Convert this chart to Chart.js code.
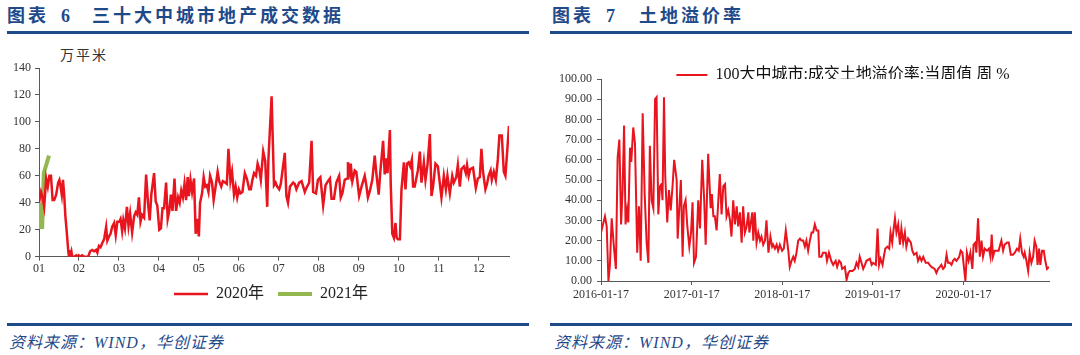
<!DOCTYPE html>
<html><head><meta charset="utf-8">
<script src="https://cdn.jsdelivr.net/npm/chart.js@4.4.1/dist/chart.umd.min.js"></script>
<style>
html,body{margin:0;padding:0;background:#fff;width:1080px;height:355px;overflow:hidden;position:relative}
.t{position:absolute;font-family:"Liberation Serif","Noto Sans CJK SC",serif;font-weight:700;color:#1f4a8a;font-size:18px;letter-spacing:3px;line-height:1;white-space:nowrap}
.rule{position:absolute;height:3px;background:#1f4a8a}
.src{position:absolute;font-family:"Liberation Serif","Noto Sans CJK SC",serif;font-style:italic;color:#1f4a8a;font-size:16px;line-height:1;white-space:nowrap;letter-spacing:1px}
.unit{position:absolute;font-family:"Noto Sans CJK SC",sans-serif;color:#333;font-size:14px;line-height:1;letter-spacing:2px}
canvas{position:absolute}
</style></head><body>
<div class="t" style="left:7px;top:7px">图表</div>
<div class="t" style="left:61px;top:7px">6</div>
<div class="t" style="left:92px;top:7px">三十大中城市地产成交数据</div>
<div class="rule" style="left:7px;top:31px;width:522px"></div>
<div class="t" style="left:552px;top:7px">图表</div>
<div class="t" style="left:606px;top:7px">7</div>
<div class="t" style="left:639px;top:7px">土地溢价率</div>
<div class="rule" style="left:550px;top:31px;width:522px"></div>
<div class="unit" style="left:60px;top:47px">万平米</div>
<canvas id="c1" width="540" height="280" style="left:0;top:40px"></canvas>
<canvas id="c2" width="540" height="260" style="left:540px;top:55px"></canvas>
<div class="rule" style="left:7px;top:323px;width:522px"></div>
<div class="rule" style="left:550px;top:323px;width:522px"></div>
<div class="src" style="left:9px;top:335px">资料来源：WIND，华创证券</div>
<div class="src" style="left:554px;top:335px">资料来源：WIND，华创证券</div>
<script>
// ---- Chart 6 data (x = month position, 0 = Jan) ----
const monthLabels = ['01','02','03','04','05','06','07','08','09','10','11','12'];
const red2020X = [
 0.00,0.05,0.09,0.13,0.18,0.22,0.26,0.30,0.34,0.38,
 0.43,0.48,0.51,0.54,0.57,0.60,0.63,0.66,0.69,0.73,
 0.75,0.78,0.81,0.83,0.88,0.93,0.96,0.99,1.03,1.08,
 1.13,1.18,1.23,1.28,1.33,1.38,1.43,1.46,1.50,1.54,
 1.58,1.63,1.68,1.71,1.75,1.79,1.83,1.88,1.92,1.96,
 2.01,2.04,2.08,2.11,2.15,2.20,2.24,2.28,2.33,2.38,
 2.42,2.46,2.50,2.54,2.58,2.63,2.68,2.73,2.77,2.81,
 2.88,2.92,2.96,3.01,3.05,3.09,3.13,3.18,3.22,3.26,
 3.30,3.34,3.39,3.43,3.48,3.52,3.56,3.60,3.64,3.68,
 3.72,3.75,3.79,3.83,3.88,3.92,3.95,4.00,4.03,4.08,
 4.12,4.16,4.20,4.24,4.28,4.33,4.37,4.41,4.47,4.51,
 4.56,4.60,4.66,4.70,4.74,4.79,4.83,4.88,4.92,4.96,
 5.00,5.04,5.09,5.15,5.20,5.26,5.30,5.34,5.38,5.43,
 5.47,5.51,5.55,5.61,5.66,5.71,5.74,5.82,5.88,5.92,
 5.96,6.01,6.05,6.15,6.19,6.23,6.28,6.36,6.40,6.44,
 6.51,6.57,6.65,6.69,6.76,6.82,6.86,6.93,6.98,7.04,
 7.11,7.17,7.23,7.28,7.32,7.38,7.44,7.51,7.55,7.59,
 7.65,7.71,7.73,7.78,7.80,7.84,7.90,7.94,8.01,8.07,
 8.15,8.19,8.23,8.28,8.34,8.40,8.44,8.50,8.54,8.61,
 8.65,8.69,8.72,8.78,8.80,8.84,8.88,8.92,8.95,8.98,
 9.03,9.07,9.13,9.17,9.21,9.25,9.29,9.33,9.36,9.40,
 9.44,9.48,9.53,9.57,9.63,9.67,9.72,9.78,9.82,9.86,
 9.92,9.98,10.07,10.13,10.18,10.22,10.28,10.34,10.38,10.44,
 10.48,10.53,10.57,10.63,10.68,10.71,10.75,10.79,10.86,10.93,
 10.98,11.03,11.07,11.11,11.17,11.21,11.25,11.30,11.33,11.38,
 11.43,11.48,11.52,11.58,11.63,11.67,11.70,11.76];
const red2020Y = [
 40,48,44,37,58,52,60,60,42,42,
 46,55,57,52,46,57,46,30,20,5,
 0,1,4,0,0,1,0,1,0,1,
 0,0,0,4,5,4,5,3,8,7,
 10,13,22,12,15,17,22,25,16,26,
 26,28,19,27,21,37,23,32,18,30,
 33,31,44,26,31,29,61,39,27,46,
 62,41,38,20,21,36,36,55,28,34,
 46,34,58,34,44,40,49,44,54,42,
 59,45,57,48,58,17,28,15,40,47,
 59,52,53,48,60,55,42,50,63,56,
 52,56,55,54,80,56,63,46,52,44,
 50,47,48,62,58,50,50,57,62,60,
 69,65,57,78,71,37,72,119,53,55,
 52,50,54,77,45,40,52,55,54,50,
 55,56,48,51,55,86,48,47,57,59,
 38,53,56,58,43,43,55,60,44,47,
 57,58,70,62,69,56,64,63,45,52,
 60,53,44,49,57,75,62,46,63,86,
 61,73,62,94,55,17,14,25,14,13,
 13,50,70,50,69,70,67,72,52,52,
 58,64,78,55,70,57,68,91,45,52,
 69,67,44,60,50,60,47,60,55,59,
 68,52,65,67,62,68,60,65,66,51,
 58,59,80,63,50,54,60,64,57,63,
 57,72,90,90,63,60,72,97];
const green2021X = [0.00,0.03,0.08,0.12,0.16,0.20,0.25];
const green2021Y = [40,22,22,62,66,70,75];

// ---- Chart 7 data (x = days since 2016-01-17) ----
const premiumTickLabels = ['2016-01-17','2017-01-17','2018-01-17','2019-01-17','2020-01-17'];
const premiumTickDays = [0,366,731,1096,1461];
const premiumDays = [
 0,16,23,30,36,43,52,60,67,74,
 81,87,93,99,105,110,117,122,130,137,
 146,153,160,168,176,184,191,197,204,211,
 218,224,231,238,244,248,254,259,267,274,
 281,289,295,305,309,316,322,329,334,341,
 348,356,363,369,375,383,392,399,408,416,
 422,432,442,447,453,459,466,473,479,486,
 493,500,506,513,520,526,533,540,547,553,
 560,567,573,580,587,594,598,604,610,614,
 620,627,634,641,647,654,661,667,675,683,
 690,694,701,708,714,721,730,737,745,755,
 761,768,775,781,788,795,802,808,815,822,
 828,835,842,849,855,862,869,876,880,889,
 895,906,911,919,928,936,946,952,960,967,
 972,983,990,997,1003,1014,1023,1030,1037,1043,
 1050,1057,1064,1070,1084,1091,1097,1108,1115,1121,
 1127,1135,1140,1146,1154,1162,1167,1174,1178,1185,
 1191,1198,1205,1211,1218,1225,1231,1238,1249,1255,
 1262,1272,1278,1285,1292,1299,1309,1319,1325,1332,
 1345,1352,1359,1366,1372,1379,1386,1393,1399,1406,
 1413,1419,1426,1433,1444,1450,1457,1463,1469,1475,
 1482,1489,1497,1502,1509,1513,1520,1527,1534,1540,
 1547,1556,1564,1570,1575,1580,1587,1597,1603,1607,
 1614,1621,1627,1637,1644,1652,1661,1668,1677,1684,
 1690,1697,1704,1708,1715,1722,1728,1735,1742,1748,
 1755,1760,1766,1771,1778,1785,1791,1798,1806];
const premiumValues = [
 24,32,27,0,8,31,17,6,61,70,
 28,45,77,28,35,29,66,59,76,68,
 14,37,10,83,43,19,9,67,40,36,
 90,91,33,47,48,40,91,52,29,45,
 35,48,60,50,21,37,50,12,37,40,
 27,17,24,39,9,12,40,26,60,40,
 18,63,36,43,32,32,25,40,53,33,
 47,48,32,35,30,22,40,28,37,27,
 34,19,37,24,27,34,24,29,34,20,
 34,19,24,20,22,18,20,30,14,22,
 17,18,16,18,15,18,15,16,25,15,
 7,10,12,10,14,20,21,20,20,17,
 20,15,20,24,24,28,25,25,12,12,
 14,14,10,14,10,8,10,7,10,9,
 6,7,0.5,4,5,5,6,9,7,12,
 9,6,8,10,11,8,9,8,26,8,
 11,8,12,16,17,16,24,19,24,31,
 24,28,18,26,19,24,17,21,19,15,
 13,14,10,12,10,12,9,9,8,7,
 6,4,6,7,8,6,7,13,9,9,
 8,10,11,10,12,15,14,7,0,14,
 10,14,6,18,19,14,31,12,20,12,
 16,15,16,12,23,12,15,15,15,17,
 20,15,18,19,19,13,13,14,16,15,
 21,14,12,14,10,5,14,9,12,20,
 17,8,16,8,15,15,10,6,7];

const serif = "'Liberation Serif','Noto Sans CJK SC',serif";
const axisColor = '#595959';
const tickColor = '#333333';
const red = '#e8141e';
const green = '#93b84f';
function pts(xs, ys){ return xs.map((x,i)=>({x:x, y:ys[i]})); }
const gridOpts = {display:true, drawOnChartArea:false, drawTicks:true, tickLength:4, color:axisColor, lineWidth:1};

// nudges a legend box sideways after layout
function legendShift(dx){
  return {id:'legendShift', afterLayout(chart){ if(chart.legend){ chart.legend.left += dx; chart.legend.right += dx; } }};
}

function draw(){
new Chart(document.getElementById('c1'), {
  type:'line',
  data:{datasets:[
    {label:'2020年', data:pts(red2020X, red2020Y), borderColor:red, backgroundColor:red, borderWidth:2.5, pointRadius:0, tension:0},
    {label:'2021年', data:pts(green2021X, green2021Y), borderColor:green, backgroundColor:green, borderWidth:4, pointRadius:0, tension:0}
  ]},
  options:{
    responsive:false, animation:false, devicePixelRatio:1,
    layout:{padding:{left:0,right:31,top:28,bottom:8}},
    plugins:{
      legend:{position:'bottom', fullSize:false,
        labels:{usePointStyle:true, pointStyle:'line', pointStyleWidth:34, padding:14, color:'#222', font:{family:serif,size:16}}},
      tooltip:{enabled:false}
    },
    scales:{
      x:{type:'linear', min:0, max:11.76,
         afterBuildTicks:(s)=>{ s.ticks = monthLabels.map((_,i)=>({value:i})); },
         afterFit:(s)=>{ s.height = 15.3; },
         ticks:{callback:(v)=>monthLabels[v], color:tickColor, font:{family:serif,size:12}, padding:1, maxRotation:0, autoSkip:false},
         grid:gridOpts, border:{color:axisColor, width:1}},
      y:{min:0, max:140,
         afterFit:(s)=>{ s.width = 39; },
         ticks:{stepSize:20, color:tickColor, font:{family:serif,size:12}, padding:4},
         grid:gridOpts, border:{color:axisColor, width:1}}
    }
  },
  plugins:[legendShift(-3)]
});

new Chart(document.getElementById('c2'), {
  type:'line',
  data:{datasets:[
    {label:'100大中城市:成交土地溢价率:当周值 周 %', data:pts(premiumDays, premiumValues), borderColor:red, backgroundColor:red, borderWidth:2, pointRadius:0, tension:0}
  ]},
  options:{
    responsive:false, animation:false, devicePixelRatio:1,
    layout:{padding:{left:0,right:31,top:10,bottom:14}},
    plugins:{
      legend:{position:'top', fullSize:false, maxHeight:14,
        labels:{usePointStyle:true, pointStyle:'line', pointStyleWidth:31, padding:2, color:'#111', font:{family:serif,size:16}}},
      tooltip:{enabled:false}
    },
    scales:{
      x:{type:'linear', min:0, max:1806,
         afterBuildTicks:(s)=>{ s.ticks = premiumTickDays.map(v=>({value:v})); },
         afterFit:(s)=>{ s.height = 20; },
         ticks:{callback:(v)=>premiumTickLabels[premiumTickDays.indexOf(v)], color:tickColor, font:{family:serif,size:12}, padding:3, maxRotation:0, autoSkip:false},
         grid:gridOpts, border:{color:axisColor, width:1}},
      y:{min:0, max:100,
         afterFit:(s)=>{ s.width = 61; },
         ticks:{stepSize:10, callback:(v)=>Number(v).toFixed(2), color:tickColor, font:{family:serif,size:12}, padding:5},
         grid:gridOpts, border:{color:axisColor, width:1}}
    }
  },
  plugins:[legendShift(18)]
});
}
Promise.all([
  document.fonts.load("12px 'Liberation Serif'"),
  document.fonts.load("16px 'Noto Sans CJK SC'", "年大中城市")
]).then(draw, draw);
</script>
</body></html>
